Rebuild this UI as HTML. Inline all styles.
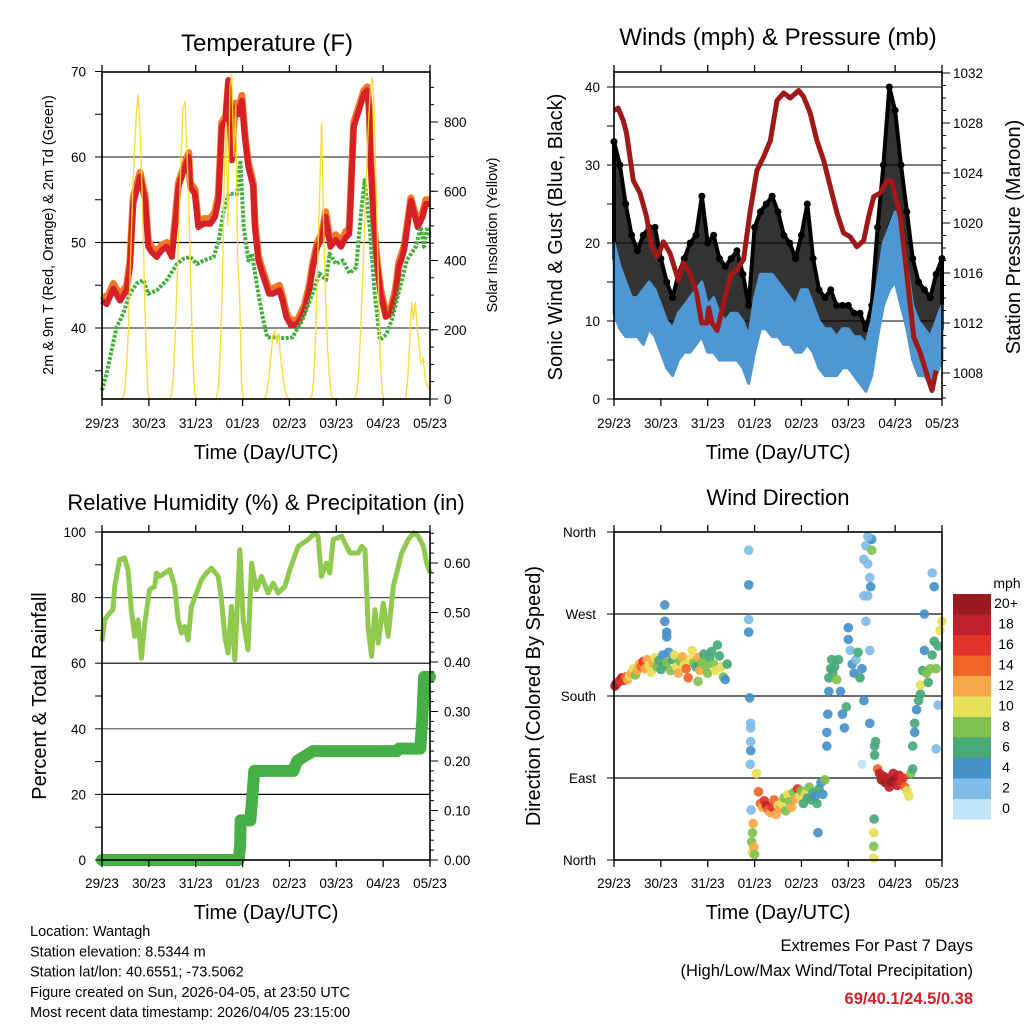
<!DOCTYPE html>
<html><head><meta charset="utf-8"><style>
html,body{margin:0;padding:0;background:#fff;}
svg{display:block;font-family:"Liberation Sans",Arial,sans-serif;}
</style></head><body>
<svg id="c" width="1024" height="1024" viewBox="0 0 1024 1024"></svg>
<script>
// ---------- DATA ----------
const dayLabels=["29/23","30/23","31/23","01/23","02/23","03/23","04/23","05/23"];
const tempHours=[0,2.4,5.8,9.2,12.6,14.3,16,19.5,22.1,23.7,25.4,28,30.6,33.2,35.8,37.5,39.2,41.8,44.4,45.2,47.6,49.3,52.1,55.5,57.9,59.6,61.3,63.3,64.7,66.5,68.2,69.9,71.6,73.3,75,77.5,78.3,80.1,82.6,85.6,87.4,90.8,92.5,94.4,96.8,100.3,103.7,106.2,108,110.3,112.8,114.5,117,119.7,122.4,124.9,126.6,128.9,134.2,135.9,136.8,137.6,139.3,141,142.7,145.3,147.9,150.4,152,154.8,158.2,161.7,164.2,165.9,167.6,168];
const tempRed=[43.2,42.8,44.6,43.2,44.4,47.1,54.5,57.7,54.9,49.5,48.9,48.3,49.1,49.5,48.3,52.2,56.5,58.4,60,56.5,55.7,51.8,52.2,52.2,53,54.9,63.5,64.3,69,59.6,65.8,65,66.6,62,58.8,56.5,51.8,47.9,46,44,44,44.4,43.2,41.3,40.3,40.5,42.1,44.4,47.1,49.5,50.6,53,49.5,50.3,49.5,50.6,51,63.5,67.4,67.8,65.5,59.6,51.8,47.1,44,41.3,41.7,44,47.1,49.1,54.9,51.8,53,54.5,54.5,54.5];
const tempOrange=[43.8,43.4,45.2,43.8,45,47.8,55.3,58.2,55.4,50.2,49.5,48.9,49.7,50,48.9,52.8,57,58.8,60.5,57,56.2,52.3,52.8,52.8,53.6,55.6,64,64.8,68.6,60.2,66.3,65.6,67.2,62.5,59.3,57,52.3,48.4,46.5,44.5,44.6,45,43.7,41.8,40.8,41,42.7,45,47.7,50,51.2,53.6,50.1,50.9,50.1,51.3,51.6,64,67.8,68.2,66,60.1,52.3,47.6,44.5,41.8,42.3,44.6,47.7,49.6,55.2,52.3,53.5,55,55,55];
const tdHours=[0,2.4,7.5,10.9,14.3,17.8,21.2,23.7,28,33.2,38.4,41.8,45.2,48.6,52.1,57.2,59.8,62.4,64.9,69.2,70.9,72.6,75,76.8,80.1,82.6,84.6,88.8,94,97.5,102.6,107.8,111.3,114.8,116.5,119.9,123.3,126.8,130.2,132.8,134.5,137.1,139.7,142.4,145.8,148.4,152.7,156.1,160.7,163.3,164.9,166.6,168];
const tdGreen=[32.7,34.7,40.1,41.7,44,45.2,45.6,44,44.4,45.6,47.5,48.1,48.3,47.5,47.9,48.3,50.3,53.8,55.7,55.7,59.6,51.8,47.9,48.7,44,40.9,38.9,38.9,38.8,38.9,40.9,44,46.4,45.6,48.7,47.5,47.9,46.4,47.1,53.8,57.3,51.8,44,38.6,39.3,40.9,44.8,47.9,49.5,51.8,49.5,51.8,50.6];
const solar29=[0,0,0,0,0,0,0,0,0,0,0,20,80,200,380,560,700,820,880,780,600,380,150,20];
const solar30=[0,0,0,0,0,0,0,0,0,0,0,10,60,180,350,520,700,840,860,720,560,330,120,15];
const solar31=[0,0,0,0,0,0,0,0,0,0,0,30,120,300,600,800,500,900,940,700,850,400,300,40];
const solar01=[0,0,0,0,0,0,0,0,0,0,0,0,20,60,120,180,200,160,190,120,80,30,10,0];
const solar02=[0,0,0,0,0,0,0,0,0,0,0,10,60,200,400,600,800,500,300,150,60,10,0,0];
const solar03=[0,0,0,0,0,0,0,0,0,0,20,80,200,350,500,650,800,900,930,820,600,350,120,20];
const solar04=[0,0,0,0,0,0,0,0,0,0,0,0,50,150,280,230,280,200,150,100,120,60,40,30];
const windHours=[0,3,6,9,12,15,18,21,24,27,30,33,36,39,42,45,48,51,54,57,60,63,66,69,72,75,78,81,84,87,90,93,96,99,102,105,108,111,114,117,120,123,126,129,132,135,138,141,144,147,150,153,156,159,162,165,168];
const sonicLow=[11,9,8,8,8,7,9,8,6,4,3,5,6,6,7,8,6,6,5,5,5,5,4,2,6,9,9,8,8,7,7,6,6,7,6,4,3,3,3,4,4,3,2,1,3,8,12,14,15,12,9,5,3,3,2,3,5];
const sonicHigh=[20,17,15,13,13,14,15,14,12,10,9,11,12,13,14,15,12,13,11,10,11,11,10,8,13,16,16,16,15,14,13,12,14,14,12,10,9,9,8,9,9,8,8,7,10,15,20,22,24,21,17,12,10,9,8,10,12];
const gustLow=[18,16,14,12,11,11,12,12,9,7,6,8,9,10,10,12,10,10,9,8,9,9,7,4,10,15,15,14,13,11,11,9,10,12,10,7,6,6,5,6,6,5,4,3,5,12,18,22,24,18,14,8,6,5,5,6,9];
const gustHigh=[33,30,25,21,19,21,22,22,18,15,13,16,18,20,21,26,20,21,18,17,18,19,16,12,22,24,25,26,24,21,20,18,21,25,18,14,13,14,12,12,12,11,11,9,12,22,30,40,37,30,24,18,15,14,13,16,18];
const pressHours=[0,2.1,4.7,6.4,9.9,13.3,16.7,19.3,21.9,23.6,25.3,28.7,33,35.5,38.9,42.3,44.9,47.5,48.5,50.2,52.8,56.2,59.6,63,66.4,69.8,73.2,76.6,80.1,83.5,86.9,90.3,94.6,97.1,100.5,103.9,107.4,110.8,114.2,117.6,121,124.4,127.9,130.4,133,136.4,139.8,142.4,146.7,150.1,153.5,156.9,161.2,162.9,165];
const pressure=[1029,1029.2,1028.2,1027.2,1023.4,1022.4,1020.5,1018.1,1017.3,1017.8,1018.5,1017.6,1015.4,1016.8,1016,1014.4,1012,1012,1013.2,1012,1011.4,1013.6,1015.8,1016.3,1017.1,1021,1024.2,1025.3,1026.6,1029.8,1030.4,1030,1030.6,1030.1,1028.8,1026.6,1025,1022.9,1020.8,1019.2,1018.9,1018.1,1018.6,1020.5,1022.1,1022.4,1023.4,1023.3,1020.5,1015.7,1010.9,1009.6,1007.4,1006.6,1008.2];
const rhHours=[0,1.4,3.1,5.6,6.5,9,11.6,13.3,15,16.7,18.5,20.2,21.9,24.4,27,27.9,29.6,32.1,34.7,37.3,39,40.7,42.4,44.1,45.8,48.4,51,53.5,56.1,59.5,61.2,62.9,64.6,66.3,68,70.6,72.3,74.8,76.6,79.1,81.7,85.1,87.7,90.2,93.7,96.2,100.5,105.6,109,110.7,112.4,115,116.7,118.4,122.7,127,131.3,133,134.7,136.4,138.1,139.8,141.5,144.1,146.6,149.2,153.5,156.9,159.5,162.1,164.6,166.3,168];
const rhValues=[66.6,73.2,74.8,76.3,83.4,91.6,92.1,88.5,76.3,68.2,73.2,61.5,72.2,82.4,83.4,87.5,86.5,87.5,88.5,83.4,73.2,69.2,71.2,67.1,77.3,81.4,85.5,87.5,89,86.5,79.3,68.2,63.1,77.3,61,94.6,73.2,64.1,90.5,82.4,86.5,81.4,84.4,81.4,83.4,88.5,95.6,97.7,99.7,98.7,86.5,90.5,87.5,97.7,98.7,93.6,93.6,95.6,94.6,70.2,62.1,76.3,66.1,78.3,68.2,83.4,93.6,97.7,99.7,98.7,95.6,90.5,87.5];
const rainHours=[0,70,70.8,71,76,78,98,100,104,108,151,152,163,164,165,168];
const rainValues=[0,0,0.03,0.08,0.08,0.18,0.18,0.20,0.21,0.22,0.22,0.225,0.225,0.28,0.37,0.37];
const dirHours=[0.5,1,2,3,4,5,6,7,8,9,10,11,12,13,14,15,16,17,18,19,20,21,22,23,24,25,26,27,28,29,30,31,32,33,34,35,36,37,38,39,40,41,42,43,44,45,46,47,48,49,50,51,52,53,54,55,56,57,58,26,26,27,27,43,69,69,69,69,69.5,70,70,70,70,69.8,70.2,70.5,70.8,71,71.3,71.6,72,73,74,75,76,77,78,79,80,81,82,83,84,85,86,87,88,89,90,91,92,93,94,95,96,97,98,99,100,101,102,103,104,105,106,107,108,104.5,109,109,109.5,110,110,111,111.5,112,113,114,115,116,117,118,119,120,120,121,122,123,124,125,126,127,128,129,130,131,131,127,128,129,130,131,132,131.5,128,130,132,133,133,133,133.2,133.5,133.5,134,135,136,137,138,139,140,141,142,143,144,145,146,147,148,149,150,151,152,153,153,154,154,155,156,157,157,158,159,159,160,161,162,163,164,165,166,167,168,164,163,166,165];
const dirDegrees=[191,193,195,197,200,197,201,198,202,205,210,203,208,215,212,218,210,220,214,206,216,222,212,219,209,225,214,217,228,208,220,225,212,205,218,223,214,210,200,220,230,216,212,222,208,217,226,213,205,222,229,215,208,236,224,212,201,198,215,280,262,245,250,196,340,302,264,250,178,150,145,130,120,105,55,20,8,30,40,14,6,95,75,62,58,65,60,55,52,58,66,50,60,56,62,68,54,72,64,58,74,67,78,70,76,62,72,68,80,66,74,70,62,78,85,72,88,30,125,140,160,185,200,210,220,205,212,198,220,185,160,145,168,242,255,230,215,205,220,228,200,210,175,262,290,230,150,105,330,345,325,310,352,300,290,355,340,2,15,30,45,115,125,130,100,95,88,92,85,90,80,86,95,88,82,93,85,90,80,76,70,95,100,125,140,150,165,175,182,192,208,230,270,205,195,210,225,240,210,235,252,262,300,315,170,122];
const dirSpeeds=[19,20,18,17,18,16,14,12,11,12,10,9,13,12,14,16,12,13,11,10,12,10,8,7,6,5,7,9,4,8,6,10,11,12,9,12,11,14,15,10,11,9,7,13,12,8,7,8,9,6,7,8,10,7,6,10,9,5,7,4,4,4,4,9,2,4,2,4,4,2,3,3,4,3,2,8,10,9,12,13,9,10,14,15,12,16,18,14,12,16,15,13,11,12,10,9,8,10,9,13,8,12,17,10,8,7,11,6,9,7,6,5,6,7,5,4,8,4,4,4,4,5,6,6,7,6,7,8,6,5,4,4,6,4,4,3,5,4,3,6,6,5,4,2,3,3,4,1,3,3,2,2,4,4,2,2,8,10,9,10,6,6,6,6,14,18,20,19,20,19,18,20,18,20,18,19,17,16,14,10,10,8,6,6,5,6,4,7,6,10,6,5,5,9,6,8,7,6,8,7,10,11,4,2,2,2];
const speedBinLabels=["20+","18","16","14","12","10","8","6","4","2","0"];
const speedBinColors=["#9a1a1f","#c0202a","#e0352b","#f06428","#f8a848","#e8e058","#80c050","#48a878","#4890c8","#80bce8","#c0e4f8"];

// ---------- DRAWING ----------
const NS="http://www.w3.org/2000/svg";
const svg=document.getElementById('c');
function el(tag,attrs,parent){const e=document.createElementNS(NS,tag);for(const k in attrs)e.setAttribute(k,attrs[k]);(parent||svg).appendChild(e);return e;}
function txt(s,x,y,size,anchor,parent,extra){const t=el('text',Object.assign({x:x,y:y,'font-size':size,'text-anchor':anchor||'middle',fill:'#000'},extra||{}),parent);t.textContent=s;return t;}
function lin(d0,d1,r0,r1){return v=>r0+(v-d0)*(r1-r0)/(d1-d0);}
function pts(xs,ys,fx,fy){return xs.map((h,i)=>fx(h).toFixed(1)+','+fy(ys[i]).toFixed(1)).join(' ');}

function frame(g,x0,x1,y0,y1,xs){
  for(let d=0;d<=7;d++){const x=xs(d*24);
    el('line',{x1:x,x2:x,y1:y1,y2:y1+7,stroke:'#000','stroke-width':1.3},g);
    el('line',{x1:x,x2:x,y1:y0,y2:y0-7,stroke:'#000','stroke-width':1.3},g);}
  el('rect',{x:x0,y:y0,width:x1-x0,height:y1-y0,fill:'none',stroke:'#000','stroke-width':1.6},g);
}
function xLabels(g,xs,y,titleY){
  dayLabels.forEach((s,i)=>{const t=txt(s,xs(i*24),y,13.5,'middle',g);
    
    });
  const t=txt('Time (Day/UTC)',(xs(0)+xs(168))/2,titleY,20,'middle',g);
  
  
}
function hgrid(g,x0,x1,y,col){el('line',{x1:x0,x2:x1,y1:y,y2:y,stroke:col||'#222','stroke-width':1.2},g);}
function ticksLeft(g,x,ys,len){ys.forEach(y=>el('line',{x1:x,x2:x-len,y1:y,y2:y,stroke:'#000','stroke-width':1},g));}
function ticksRight(g,x,ys,len){ys.forEach(y=>el('line',{x1:x,x2:x+len,y1:y,y2:y,stroke:'#000','stroke-width':1},g));}
function rotText(s,x,y,size,g,name){const t=txt(s,x,y,size,'middle',g,{transform:`rotate(-90 ${x} ${y})`});return t;}

// ===== Panel 1: Temperature =====
{
const g=el('g',{});


const x0=102,x1=430,y0=72,y1=399;
const xs=lin(0,168,x0,x1), yT=lin(40,60,328,157), yS=lin(0,800,399,122);
[40,50,60].forEach(v=>hgrid(g,x0,x1,yT(v),v==50?'#000':'#444'));
const orange=el('polyline',{points:pts(tempHours,tempOrange,xs,yT),fill:'none',stroke:'#f07828','stroke-width':7,'stroke-linejoin':'round'},g);


const red=el('polyline',{points:pts(tempHours,tempRed,xs,yT),fill:'none',stroke:'#d42026','stroke-width':6,'stroke-linejoin':'round'},g);


const green=el('polyline',{points:pts(tdHours,tdGreen,xs,yT),fill:'none',stroke:'#44b03c','stroke-width':4,'stroke-dasharray':'3 1.5','stroke-linejoin':'round'},g);


const sol=[].concat(solar29,solar30,solar31,solar01,solar02,solar03,solar04);
const solH=sol.map((v,i)=>i+0.5);
const sl=el('polyline',{points:pts(solH,sol,xs,yS),fill:'none',stroke:'#fbd92e','stroke-width':1.4,'stroke-opacity':0.9},g);


frame(g,x0,x1,y0,y1,xs);
const minT=[];for(let v=35;v<=70;v+=5)minT.push(yT(v));ticksLeft(g,x0,minT,7);
const minS=[];for(let v=0;v<=900;v+=50)minS.push(yS(v));ticksRight(g,x1,minS,4);
ticksRight(g,x1,[0,200,400,600,800].map(yS),8);
[40,50,60,70].forEach(v=>txt(String(v),86,yT(v)+5,13.5,'end',g));
[0,200,400,600,800].forEach(v=>txt(String(v),444,yS(v)+5,13.5,'start',g));
xLabels(g,xs,428,459);
const tt=txt('Temperature (F)',267,51,24,'middle',g);


rotText('2m & 9m T (Red, Orange) & 2m Td (Green)',53,235,14.5,g,'temperature-y-axis-title');
rotText('Solar Insolation (Yellow)',497,235,14.5,g,'solar-y-axis-title');
}

// ===== Panel 2: Winds & Pressure =====
{
const g=el('g',{});


const x0=614,x1=942,y0=72,y1=399;
const xs=lin(0,168,x0,x1), yW=lin(0,40,399,87), yP=lin(1008,1032,373,73);
[10,20,30,40].forEach(v=>hgrid(g,x0,x1,yW(v),'#333'));
const gp=windHours.map((h,i)=>xs(h).toFixed(1)+','+yW(gustHigh[i]).toFixed(1)).join(' ')+' '+windHours.map((h,i)=>[h,i]).reverse().map(([h,i])=>xs(h).toFixed(1)+','+yW(gustLow[i]).toFixed(1)).join(' ');
const gust=el('polygon',{points:gp,fill:'#000','fill-opacity':0.8,stroke:'#000','stroke-width':4,'stroke-linejoin':'round'},g);


windHours.forEach((h,i)=>{
  const c=el('circle',{cx:xs(h),cy:yW(gustHigh[i]),r:3.5,fill:'#000'},g);
  
  
});
const bp=windHours.map((h,i)=>xs(h).toFixed(1)+','+yW(sonicHigh[i]).toFixed(1)).join(' ')+' '+windHours.map((h,i)=>[h,i]).reverse().map(([h,i])=>xs(h).toFixed(1)+','+yW(sonicLow[i]).toFixed(1)).join(' ');
const blue=el('polygon',{points:bp,fill:'#4f97d2',stroke:'#4f97d2','stroke-width':3,'stroke-linejoin':'round'},g);


const pl=el('polyline',{points:pts(pressHours,pressure,xs,yP),fill:'none',stroke:'#a01818','stroke-width':5,'stroke-linejoin':'round'},g);


frame(g,x0,x1,y0,y1,xs);
const mw=[];for(let v=0;v<=40;v+=5)mw.push(yW(v));ticksLeft(g,x0,mw,7);
const mp=[];for(let v=1006;v<=1032;v++)mp.push(yP(v));ticksRight(g,x1,mp,4);
ticksRight(g,x1,[1008,1012,1016,1020,1024,1028,1032].map(yP),8);
[0,10,20,30,40].forEach(v=>txt(String(v),600,yW(v)+5,13.5,'end',g));
[1008,1012,1016,1020,1024,1028,1032].forEach(v=>txt(String(v),953,yP(v)+5,13.5,'start',g));
xLabels(g,xs,428,459);
const tt=txt('Winds (mph) & Pressure (mb)',778,45,24,'middle',g);


rotText('Sonic Wind & Gust (Blue, Black)',562,237,20,g,'wind-y-axis-title');
rotText('Station Pressure (Maroon)',1020,237,20,g,'pressure-y-axis-title');
}

// ===== Panel 3: RH & Precip =====
{
const g=el('g',{});


const x0=102,x1=430,y0=532,y1=860;
const xs=lin(0,168,x0,x1), yR=lin(0,100,860,532), yP=lin(0,0.6,860,563);
[20,60].forEach(v=>hgrid(g,x0,x1,yR(v),'#000'));
[40,80].forEach(v=>hgrid(g,x0,x1,yR(v),'#555'));
const rh=el('polyline',{points:pts(rhHours,rhValues,xs,yR),fill:'none',stroke:'#8fca4f','stroke-width':5,'stroke-linejoin':'round'},g);


const rn=el('polyline',{points:pts(rainHours,rainValues,xs,yP),fill:'none',stroke:'#46b046','stroke-width':12,'stroke-linejoin':'round','stroke-linecap':'round'},g);


frame(g,x0,x1,y0,y1,xs);
const ml=[];for(let v=0;v<=100;v+=10)ml.push(yR(v));ticksLeft(g,x0,ml,7);
const mr=[];for(let v=0;v<=66;v+=2)mr.push(yP(v/100));ticksRight(g,x1,mr,4);
ticksRight(g,x1,[0,0.1,0.2,0.3,0.4,0.5,0.6].map(yP),8);
[0,20,40,60,80,100].forEach(v=>txt(String(v),86,yR(v)+5,13.5,'end',g));
["0.00","0.10","0.20","0.30","0.40","0.50","0.60"].forEach(s=>txt(s,444,yP(parseFloat(s))+5,13.5,'start',g));
xLabels(g,xs,888,919);
const tt=txt('Relative Humidity (%) & Precipitation (in)',266,510,22,'middle',g);


rotText('Percent & Total Rainfall',46,696,20,g,'humidity-y-axis-title');
}

// ===== Panel 4: Wind Direction =====
{
const g=el('g',{});


const x0=614,x1=942,y0=532,y1=860;
const xs=lin(0,168,x0,x1), yD=lin(0,360,860,532);
[90,180,270].forEach(v=>hgrid(g,x0,x1,yD(v),'#111'));
function binOf(s){if(s>=20)return 0;const i=10-Math.floor(s/2);return Math.max(1,Math.min(10,i));}
dirHours.forEach((h,i)=>{
  const c=el('circle',{cx:xs(h).toFixed(1),cy:yD(dirDegrees[i]).toFixed(1),r:4.8,fill:speedBinColors[binOf(dirSpeeds[i])],'fill-opacity':0.92},g);
  
  
});
frame(g,x0,x1,y0,y1,xs);
ticksLeft(g,x0,[0,90,180,270,360].map(yD),7);
["North","East","South","West","North"].forEach((s,i)=>txt(s,596,yD(i*90)+5,13.5,'end',g));
xLabels(g,xs,888,919);
const tt=txt('Wind Direction',778,505,22,'middle',g);


rotText('Direction (Colored By Speed)',540,696,20,g,'direction-y-axis-title');
const cb=el('g',{},g);


txt('mph',1007,588,14,'middle',cb);
speedBinColors.forEach((col,i)=>{
  const r=el('rect',{x:953,y:594+i*20.5,width:38,height:20.5,fill:col},cb);
  
  
  txt(speedBinLabels[i],1006,608+i*20.5,14,'middle',cb);
});
}

// ===== Footer =====
{
const g=el('g',{});


["Location: Wantagh","Station elevation: 8.5344 m","Station lat/lon: 40.6551; -73.5062","Figure created on Sun, 2026-04-05, at 23:50 UTC","Most recent data timestamp: 2026/04/05 23:15:00"].forEach((s,i)=>txt(s,30,936+i*20.3,14.5,'start',g));
const e=el('g',{});


txt('Extremes For Past 7 Days',973,951,16.5,'end',e);
txt('(High/Low/Max Wind/Total Precipitation)',973,976,16.5,'end',e);
txt('69/40.1/24.5/0.38',973,1004,16.5,'end',e,{fill:'#d42026','font-weight':'bold'});
}
</script>
</body></html>
